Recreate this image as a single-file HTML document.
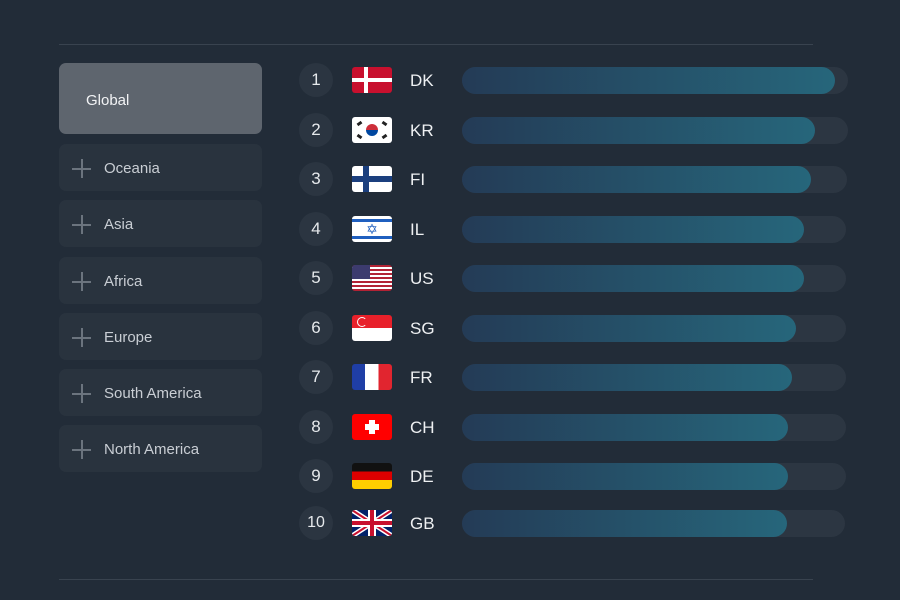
<!DOCTYPE html>
<html><head><style>
body{margin:0;width:900px;height:600px;background:#222c38;font-family:"Liberation Sans",sans-serif;position:relative;overflow:hidden}
.ln{position:absolute;left:59px;width:754px;height:1px;background:#39434f}
.btn{position:absolute;left:59px;width:203px;height:47px;background:#29333e;border-radius:7px;color:#c9ced4;font-size:15px}
.btn span{position:absolute;left:45px;top:16px}
.btn i{position:absolute;left:13px;top:15px;width:19px;height:19px}
.btn i:before{content:"";position:absolute;left:0;top:9px;width:19px;height:2px;background:#6b747e}
.btn i:after{content:"";position:absolute;left:9px;top:0;width:2px;height:19px;background:#6b747e}
.row{position:absolute;left:0;width:900px;height:34px}
.c{position:absolute;left:299px;top:0;width:34px;height:34px;border-radius:50%;background:#2b3541;color:#e6e9ec;font-size:17px;text-align:center;line-height:34px}
.f{position:absolute;left:352px;top:4px;width:40px;height:26px;border-radius:3px;overflow:hidden}
.code{position:absolute;left:410px;top:8px;color:#eef0f2;font-size:17px}
.tr{position:absolute;left:462px;top:4px;height:27px;border-radius:14px;background:#2c3642}
.b{position:absolute;left:0;top:0;height:27px;border-radius:14px;background:linear-gradient(90deg,#243b56,#26667b)}
</style></head><body>
<div class="ln" style="top:44px"></div>
<div class="ln" style="top:579px"></div>
<div class="btn" style="top:63px;height:71px;background:#5e656e;color:#f2f3f5"><span style="left:27px;top:29px">Global</span></div>
<div class="btn" style="top:144px"><i></i><span>Oceania</span></div>
<div class="btn" style="top:200px"><i></i><span>Asia</span></div>
<div class="btn" style="top:257px"><i></i><span>Africa</span></div>
<div class="btn" style="top:313px"><i></i><span>Europe</span></div>
<div class="btn" style="top:369px"><i></i><span>South America</span></div>
<div class="btn" style="top:425px"><i></i><span>North America</span></div>

<div class="row" style="top:63px"><div class="c">1</div><div class="f" style="background:#c8102e"><div style="position:absolute;left:12px;top:0;width:4px;height:26px;background:#fff"></div><div style="position:absolute;left:0;top:11px;width:40px;height:4px;background:#fff"></div></div><div class="code">DK</div><div class="tr" style="width:386px"><div class="b" style="width:373px"></div></div></div>
<div class="row" style="top:113px"><div class="c">2</div><div class="f" style="background:#fff"><div style="position:absolute;left:14px;top:7px;width:12px;height:12px;border-radius:50%;background:linear-gradient(#cd2e3a 50%,#0047a0 50%)"></div><div style="position:absolute;left:5px;top:5px;width:5px;height:3px;background:#222;transform:rotate(-35deg)"></div><div style="position:absolute;left:30px;top:5px;width:5px;height:3px;background:#222;transform:rotate(35deg)"></div><div style="position:absolute;left:5px;top:18px;width:5px;height:3px;background:#222;transform:rotate(35deg)"></div><div style="position:absolute;left:30px;top:18px;width:5px;height:3px;background:#222;transform:rotate(-35deg)"></div></div><div class="code">KR</div><div class="tr" style="width:386px"><div class="b" style="width:353px"></div></div></div>
<div class="row" style="top:162px"><div class="c">3</div><div class="f" style="background:#fff"><div style="position:absolute;left:11px;top:0;width:6px;height:26px;background:#1b3f7e"></div><div style="position:absolute;left:0;top:10px;width:40px;height:6px;background:#1b3f7e"></div></div><div class="code">FI</div><div class="tr" style="width:385px"><div class="b" style="width:349px"></div></div></div>
<div class="row" style="top:212px"><div class="c">4</div><div class="f" style="background:#fff"><div style="position:absolute;left:0;top:3px;width:40px;height:3px;background:#1f5fbf"></div><div style="position:absolute;left:0;top:20px;width:40px;height:3px;background:#1f5fbf"></div><div style="position:absolute;left:0;top:5px;width:40px;text-align:center;color:#1f5fbf;font-size:14px;line-height:16px">✡</div></div><div class="code">IL</div><div class="tr" style="width:384px"><div class="b" style="width:342px"></div></div></div>
<div class="row" style="top:261px"><div class="c">5</div><div class="f" style="background:repeating-linear-gradient(#b22234 0 2px,#fff 2px 4px)"><div style="position:absolute;left:0;top:0;width:18px;height:14px;background:#3c3b6e"></div></div><div class="code">US</div><div class="tr" style="width:384px"><div class="b" style="width:342px"></div></div></div>
<div class="row" style="top:311px"><div class="c">6</div><div class="f" style="background:linear-gradient(#e8202a 50%,#fff 50%)"><div style="position:absolute;left:5px;top:2px;width:8px;height:8px;border-radius:50%;border:1px solid #fff;border-right-color:transparent"></div></div><div class="code">SG</div><div class="tr" style="width:384px"><div class="b" style="width:334px"></div></div></div>
<div class="row" style="top:360px"><div class="c">7</div><div class="f" style="background:linear-gradient(90deg,#1f3ea6 33%,#fff 33% 66%,#e1252f 66%)"></div><div class="code">FR</div><div class="tr" style="width:384px"><div class="b" style="width:330px"></div></div></div>
<div class="row" style="top:410px"><div class="c">8</div><div class="f" style="background:#f00"><div style="position:absolute;left:17px;top:6px;width:6px;height:14px;background:#fff"></div><div style="position:absolute;left:13px;top:10px;width:14px;height:6px;background:#fff"></div></div><div class="code">CH</div><div class="tr" style="width:384px"><div class="b" style="width:326px"></div></div></div>
<div class="row" style="top:459px"><div class="c">9</div><div class="f" style="background:linear-gradient(#111 33%,#dd0000 33% 66%,#ffce00 66%)"></div><div class="code">DE</div><div class="tr" style="width:384px"><div class="b" style="width:326px"></div></div></div>
<div class="row" style="top:506px"><div class="c" style="font-size:16px">10</div><div class="f" style="background:#012169"><svg width="40" height="26"><path d="M0 0L40 26M40 0L0 26" stroke="#fff" stroke-width="5"/><path d="M0 0L40 26M40 0L0 26" stroke="#c8102e" stroke-width="2"/><path d="M20 0V26M0 13H40" stroke="#fff" stroke-width="8"/><path d="M20 0V26M0 13H40" stroke="#c8102e" stroke-width="4"/></svg></div><div class="code">GB</div><div class="tr" style="width:383px"><div class="b" style="width:325px"></div></div></div>
</body></html>
